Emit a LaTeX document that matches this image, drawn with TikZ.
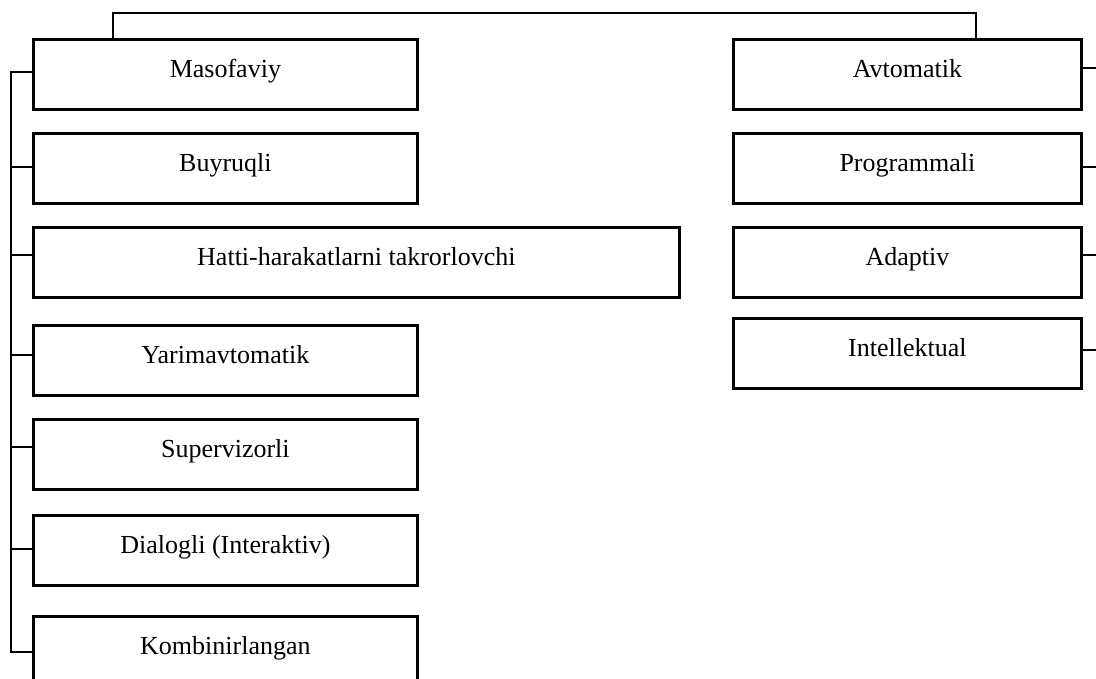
\documentclass[tikz,border=0pt]{standalone}
\usepackage{fontspec}
\setmainfont{Liberation Serif}
\begin{document}
\begin{tikzpicture}[x=1pt,y=-1pt,
  box/.style={draw, line width=2.8pt, rectangle, inner sep=0pt, anchor=north west,
    minimum height=70pt, text height=38pt, text depth=32pt,
    font=\fontsize{26}{30}\selectfont},
  lbox/.style={box, minimum width=384pt},
  rbox/.style={box, minimum width=348pt},
  wire/.style={line width=2.3pt}]
\clip (0,0) rectangle (1096,679);
\useasboundingbox (0,0) rectangle (1096,679);

% left column
\node[lbox] (mas) at (32,38) {Masofaviy};
\node[lbox] (buy) at (32,132) {Buyruqli};
\node[box, minimum width=646pt] (hat) at (32,226) {Hatti-harakatlarni takrorlovchi};
\node[lbox] (yar) at (32,324) {Yarimavtomatik};
\node[lbox] (sup) at (32,418) {Supervizorli};
\node[lbox] (dia) at (32,514) {Dialogli (Interaktiv)};
\node[lbox] (kom) at (32,615) {Kombinirlangan};

% right column
\node[rbox] (avt) at (732,38) {Avtomatik};
\node[rbox] (pro) at (732,132) {Programmali};
\node[rbox] (ada) at (732,226) {Adaptiv};
\node[rbox] (int) at (732,317) {Intellektual};

% top bracket joining both columns
\draw[wire] ([xshift=81pt]mas.north west) -- ++(0,-25) -| ([xshift=244pt]avt.north west);

% left spine with branches
\draw[wire] ([yshift=-34pt]mas.north west) -- ++(-21,0) |- ([yshift=-37pt]kom.north west);
\foreach \n/\d in {buy/35, hat/29, yar/31, sup/29, dia/35}
  \draw[wire] ([yshift=-\d pt]\n.north west) -- ++(-21,0);

% right stubs
\foreach \n/\d in {avt/30, pro/35, ada/29, int/33}
  \draw[wire] ([yshift=-\d pt]\n.north east) -- ++(20,0);
\end{tikzpicture}
\end{document}
